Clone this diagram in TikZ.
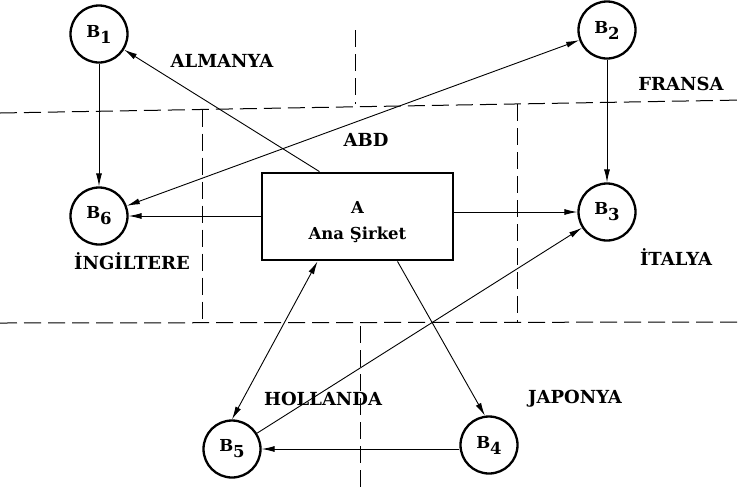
\documentclass[tikz,border=0pt]{standalone}
\usepackage{fontspec}
\setmainfont{DejaVu Serif}
\usetikzlibrary{arrows.meta}
% subsidiary label: B with a lowered index
\newcommand\bsub[1]{B\raisebox{-6pt}{#1}}
\begin{document}
\begin{tikzpicture}[x=1pt,y=-1pt,
  firm/.style={circle,draw,line width=2.3pt,minimum size=57pt,inner sep=0pt,
    font=\fontsize{16.5}{16.5}\selectfont\bfseries},
  hq/.style={rectangle,draw,line width=2.8pt,minimum width=191pt,minimum height=87pt},
  hqtext/.style={align=center,inner sep=0pt,font=\fontsize{16.5}{26}\selectfont\bfseries},
  country/.style={font=\fontsize{18}{18}\selectfont\bfseries,text height=13pt,
    text depth=0pt,inner sep=0pt},
  tip/.tip={Latex[length=13pt,width=6pt]},
  link/.style={line width=0.9pt,-tip},
  link2/.style={line width=0.9pt,tip-tip},
  border/.style={line width=1pt,dash pattern=on 17pt off 7pt}]
\useasboundingbox (0,0) rectangle (743,491);

% country borders
\coordinate (tl) at (0,113);
\coordinate (tr) at (743,100);
\coordinate (bl) at (0,323);
\coordinate (br) at (743,322);
\coordinate (ul) at (202,109.5);
\coordinate (ur) at (517,104);
\coordinate (ll) at (202,323);
\coordinate (lr) at (517,322);
\draw[border] (tl) -- (tr);
\draw[border] (bl) -- (br);
\draw[border] (ul) -- (ll);
\draw[border] (ur) -- (lr);
\draw[border] (355,30) -- (355,104);
\draw[border] (360,326) -- (360,491);

% parent company and subsidiaries
\node[hq] (A) at (357.5,216.5) {};
\node[hqtext] (Atxt) at ([yshift=-4pt]A.center) {A\\Ana \smash{Ş}irket};
\node[firm] (B1) at (99,34) {\bsub{1}};
\node[firm] (B2) at (607,30) {\bsub{2}};
\node[firm] (B3) at (607,212) {\bsub{3}};
\node[firm] (B4) at (489,445) {\bsub{4}};
\node[firm] (B5) at (232,449) {\bsub{5}};
\node[firm] (B6) at (99,216) {\bsub{6}};

% country names
\node[country] (de) at (222,61) {ALMANYA};
\node[country] (fr) at (681,84) {FRANSA};
\node[country] (us) at (366,140) {ABD};
\node[country] (uk) at (132,263) {İNGİLTERE};
\node[country] (it) at (676,259) {İTALYA};
\node[country] (nl) at (323,399) {HOLLANDA};
\node[country] (jp) at (575,397) {JAPONYA};

% flows
\draw[link] (B1) -- (B6);
\draw[link] (B2) -- (B3);
\draw[link] (A.west |- B6) -- (B6);
\draw[link] (A.east |- B3) -- (B3);
\draw[link2] (B6) -- (B2);
\draw[link] ([xshift=-38pt]A.north) -- (B1);
\draw[link2] ([xshift=-40pt]A.south) -- (B5.north);
\draw[link] ([xshift=40pt]A.south) -- (B4.98);
\draw[link] (B5) -- (B3);
\draw[link] (B4.west |- B5.east) -- (B5);
\end{tikzpicture}
\end{document}
